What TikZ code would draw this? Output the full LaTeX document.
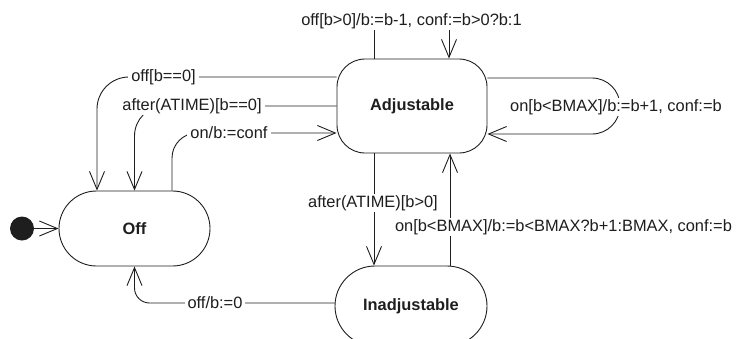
\documentclass[tikz,border=0pt]{standalone}
\usepackage{fontspec}
\setmainfont{Liberation Sans}
\usetikzlibrary{arrows.meta,calc}
\definecolor{ink}{HTML}{1E1E1E}
\begin{document}
\begin{tikzpicture}[x=1pt,y=-1pt,
  state/.style={draw=ink,line width=0.9pt,rectangle,inner sep=0pt,text=ink,
    font=\fontsize{16.4pt}{19pt}\selectfont\bfseries},
  tr/.style={draw=ink,line width=0.9pt,-{Straight Barb[length=18pt,width=15pt,line width=0.9pt]}},
  lbl/.style={fill=white,inner xsep=3pt,inner ysep=1.5pt,text=ink,
    font=\fontsize{16.4pt}{19pt}\selectfont}]
\useasboundingbox (0,0) rectangle (736,338);
% states
\node[state,minimum width=151pt,minimum height=75pt,rounded corners=37.5pt] (Off) at (134.5,228.5) {Off};
\node[state,minimum width=150pt,minimum height=94pt,rounded corners=28pt] (Adj) at (412,106) {Adjustable};
\node[state,minimum width=152pt,minimum height=80pt,rounded corners=40pt] (Ina) at (411,306) {\raisebox{3pt}{Inadjustable}};
\node[circle,fill=ink,minimum size=24pt,inner sep=0pt] (init) at (22,228.5) {};
\draw[tr] (init) -- (Off.west);
% Adjustable -> Off
\draw[tr,rounded corners=32pt] (Adj.west |- 0,77) -| (97,0 |- Off.north);
\node[lbl] (l1) at (163.5,77) {off[b==0]};
\draw[tr,rounded corners=30pt] (Adj.west |- 0,106) -| (Off.north);
\node[lbl] (l2) at (192,106) {after(ATIME)[b==0]};
% Off -> Adjustable
\draw[tr,rounded corners=25pt] (172,0 |- Off.north) |- (Adj.west |- 0,133);
\node[lbl] (l3) at (229,133) {on/b:=conf};
% top self loop
\draw[tr] (374,0 |- Adj.north) -- (374,22) -- (449,22) -- (449,0 |- Adj.north);
\node[lbl] (l4) at (411.5,21) {off[b>0]/b:=b-1, conf:=b>0?b:1};
% right self loop
\draw[tr] (Adj.east |- 0,78) -- (592,78) arc[start angle=-90,end angle=90,radius=28] -- (Adj.east |- 0,134);
\node[lbl,anchor=west] (l5) at (507,107) {on[b<BMAX]/b:=b+1, conf:=b};
% Adjustable -> Inadjustable
\draw[tr] (374,0 |- Adj.south) -- (374,0 |- Ina.north);
\node[lbl] (l6) at (373,203) {after(ATIME)[b>0]};
% Inadjustable -> Adjustable
\draw[tr] (450,0 |- Ina.north) -- (450,0 |- Adj.south);
\node[lbl] (l7) at (563.5,227) {on[b<BMAX]/b:=b<BMAX?b+1:BMAX, conf:=b};
% Inadjustable -> Off
\draw[tr,rounded corners=15pt] (Ina.west |- 0,303) -| (Off.south);
\node[lbl] (l8) at (215,303) {off/b:=0};
\end{tikzpicture}
\end{document}
